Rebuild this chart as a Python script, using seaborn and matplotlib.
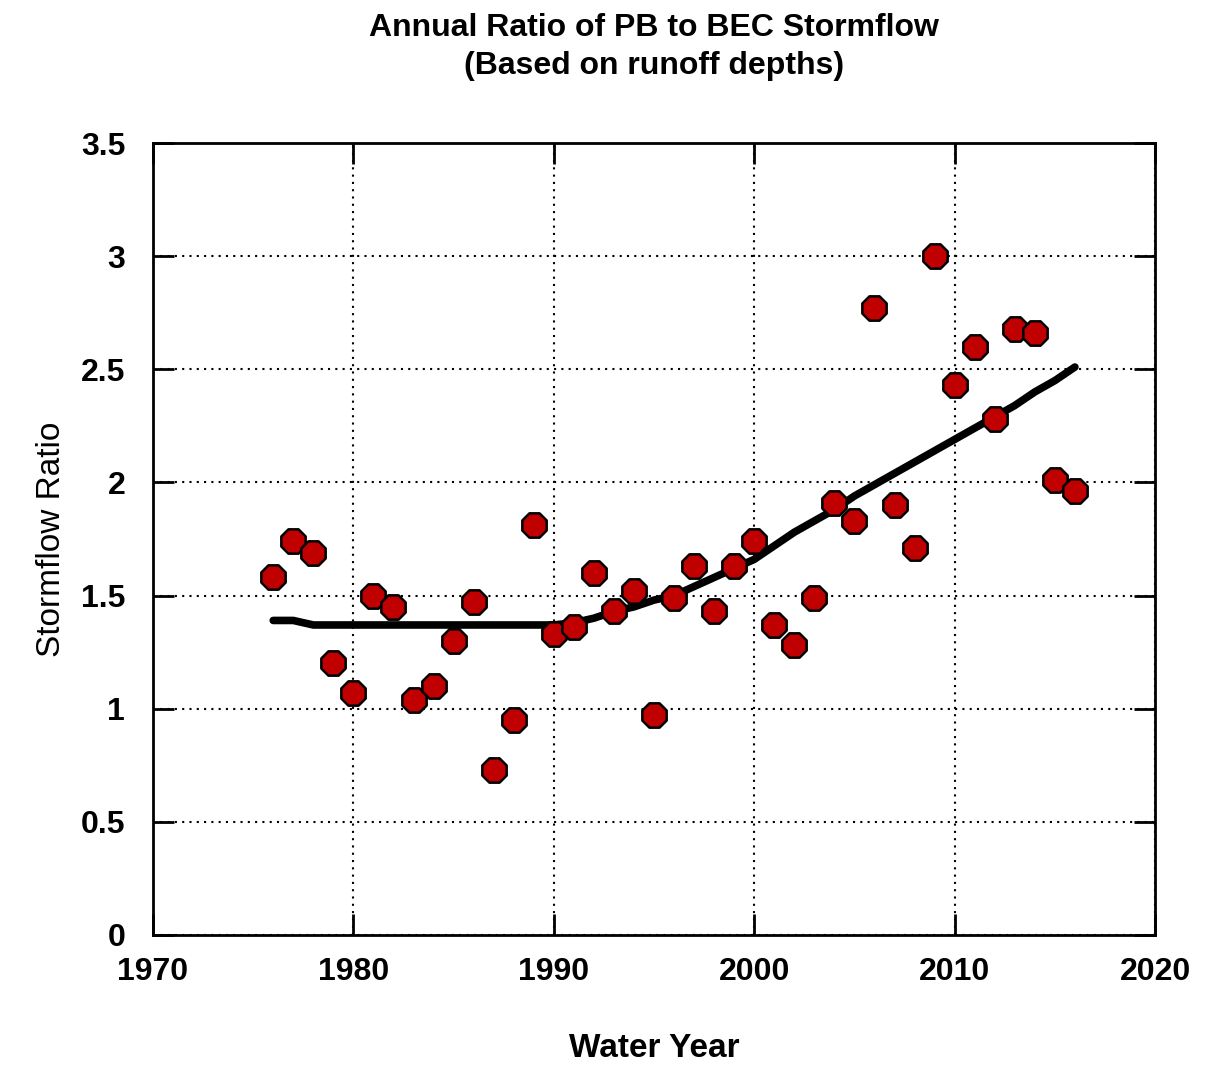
import matplotlib
matplotlib.use("Agg")
import matplotlib.pyplot as plt
import seaborn as sns
import pandas as pd

years = list(range(1976, 2017))
ratio = [1.58, 1.74, 1.69, 1.20, 1.07, 1.50, 1.45, 1.04, 1.10, 1.30,
         1.47, 0.73, 0.95, 1.81, 1.33, 1.36, 1.60, 1.43, 1.52, 0.97,
         1.49, 1.63, 1.43, 1.63, 1.74, 1.37, 1.28, 1.49, 1.91, 1.83,
         2.77, 1.90, 1.71, 3.00, 2.43, 2.60, 2.28, 2.68, 2.66, 2.01,
         1.96]
trend = [1.39, 1.39, 1.37, 1.37, 1.37, 1.37, 1.37, 1.37, 1.37, 1.37,
         1.37, 1.37, 1.37, 1.37, 1.37, 1.38, 1.40, 1.43, 1.45, 1.48,
         1.50, 1.54, 1.58, 1.62, 1.66, 1.72, 1.78, 1.83, 1.88, 1.94,
         1.99, 2.04, 2.09, 2.14, 2.19, 2.24, 2.29, 2.34, 2.40, 2.45,
         2.51]
xticks = [1970, 1980, 1990, 2000, 2010, 2020]
yticks = [0, 0.5, 1, 1.5, 2, 2.5, 3, 3.5]
ytick_labels = ["0", "0.5", "1", "1.5", "2", "2.5", "3", "3.5"]

df = pd.DataFrame({"year": years, "ratio": ratio, "trend": trend})

sns.set_theme(style="white")
plt.rcParams["font.family"] = ["Liberation Sans", "DejaVu Sans"]
plt.rcParams["text.color"] = "black"
plt.rcParams["axes.labelcolor"] = "black"
plt.rcParams["xtick.color"] = "black"
plt.rcParams["ytick.color"] = "black"

fig = plt.figure(figsize=(12.21, 10.65), dpi=100)
ax = fig.add_axes([0.1253, 0.1221, 0.8207, 0.7436])

sns.lineplot(data=df, x="year", y="trend", ax=ax, color="black", linewidth=5.5,
             zorder=2)
sns.scatterplot(data=df, x="year", y="ratio", ax=ax, marker="8", s=360,
                color="#C00000", edgecolor="black", linewidth=1.8, zorder=3)

ax.set_xlim(1970, 2020)
ax.set_ylim(0, 3.5)
ax.set_xticks(xticks)
ax.set_yticks(yticks)
ax.set_xticklabels([str(t) for t in xticks], fontsize=23, fontweight="bold")
ax.set_yticklabels(ytick_labels, fontsize=23, fontweight="bold")
ax.tick_params(direction="in", length=15, width=2, top=True, right=True,
               bottom=True, left=True, colors="black")
ax.tick_params(axis="x", pad=16)
ax.tick_params(axis="y", pad=20)
ax.grid(True, color="black", linestyle=(0, (1, 2.5)), linewidth=1.5)
ax.set_axisbelow(True)
for s in ax.spines.values():
    s.set_color("black")
    s.set_linewidth(2)

ax.set_xlabel("Water Year", fontsize=24, fontweight="bold", labelpad=33)
ax.set_ylabel("Stormflow Ratio", fontsize=24, labelpad=10, color="black")
ax.set_title("Annual Ratio of PB to BEC Stormflow\n(Based on runoff depths)",
             fontsize=23, pad=50, fontweight="bold", linespacing=1.35,
             color="black")

fig.savefig("out.png", dpi=100)
